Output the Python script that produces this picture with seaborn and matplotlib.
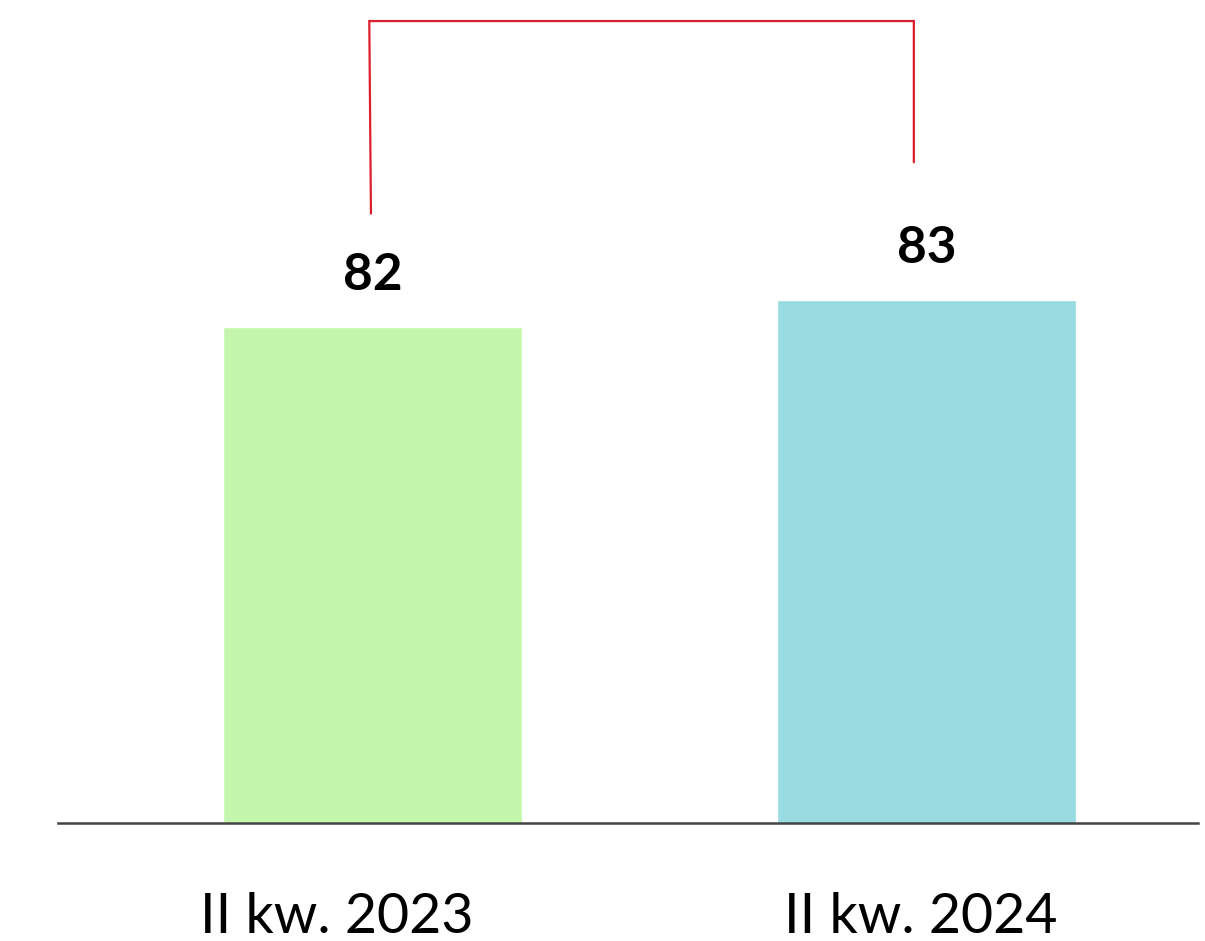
import matplotlib
matplotlib.use("Agg")
import matplotlib.pyplot as plt
import matplotlib.transforms as mtransforms
import pandas as pd
import seaborn as sns

# values
quarters = ["II kw. 2023", "II kw. 2024"]
values = [82, 83]
bar_colors = ["#C4F7AD", "#98DBE0"]

df = pd.DataFrame({"quarter": quarters, "value": values})

sns.set_theme(style="white")
plt.rcParams["font.family"] = ["Lato", "DejaVu Sans"]

fig = plt.figure(figsize=(12.05, 9.41), dpi=100)
ax = fig.add_axes([0.0481, 0.1254, 0.9461, 0.8746])

sns.barplot(data=df, x="quarter", y="value", hue="quarter", palette=bar_colors,
            width=0.54, legend=False, ax=ax, saturation=1)

ax.set_ylim(63.63, 94.11)
ax.set_xlim(-0.568, 1.49)

# value labels above bars
for i, v in enumerate(values):
    ax.text(i, v + 1.9, f"{v}", ha="center", va="center",
            fontsize=37, fontweight="bold", color="black")

# red comparison bracket
red = "#DC1F2A"
ax.plot([-0.003, -0.006, 0.977, 0.977],
        [values[0] + 4.2, 93.33, 93.33, values[1] + 5.1],
        color=red, lw=1.6, solid_joinstyle="miter", clip_on=False)

# axes styling
for s in ["top", "right", "left"]:
    ax.spines[s].set_visible(False)
ax.spines["bottom"].set_color("#444444")
ax.spines["bottom"].set_linewidth(1.8)
ax.set_yticks([])
ax.set_xlabel("")
ax.set_ylabel("")
ax.tick_params(axis="x", length=0, pad=50)
shifts = [-0.36, -0.06]  # inches, labels sit slightly left in the original
for lab, dx in zip(ax.get_xticklabels(), shifts):
    lab.set_fontsize(40)
    lab.set_fontweight("normal")
    lab.set_color("black")
    lab.set_transform(lab.get_transform() +
                      mtransforms.ScaledTranslation(dx, 0, fig.dpi_scale_trans))

fig.savefig("out.png", dpi=100, facecolor="white")
